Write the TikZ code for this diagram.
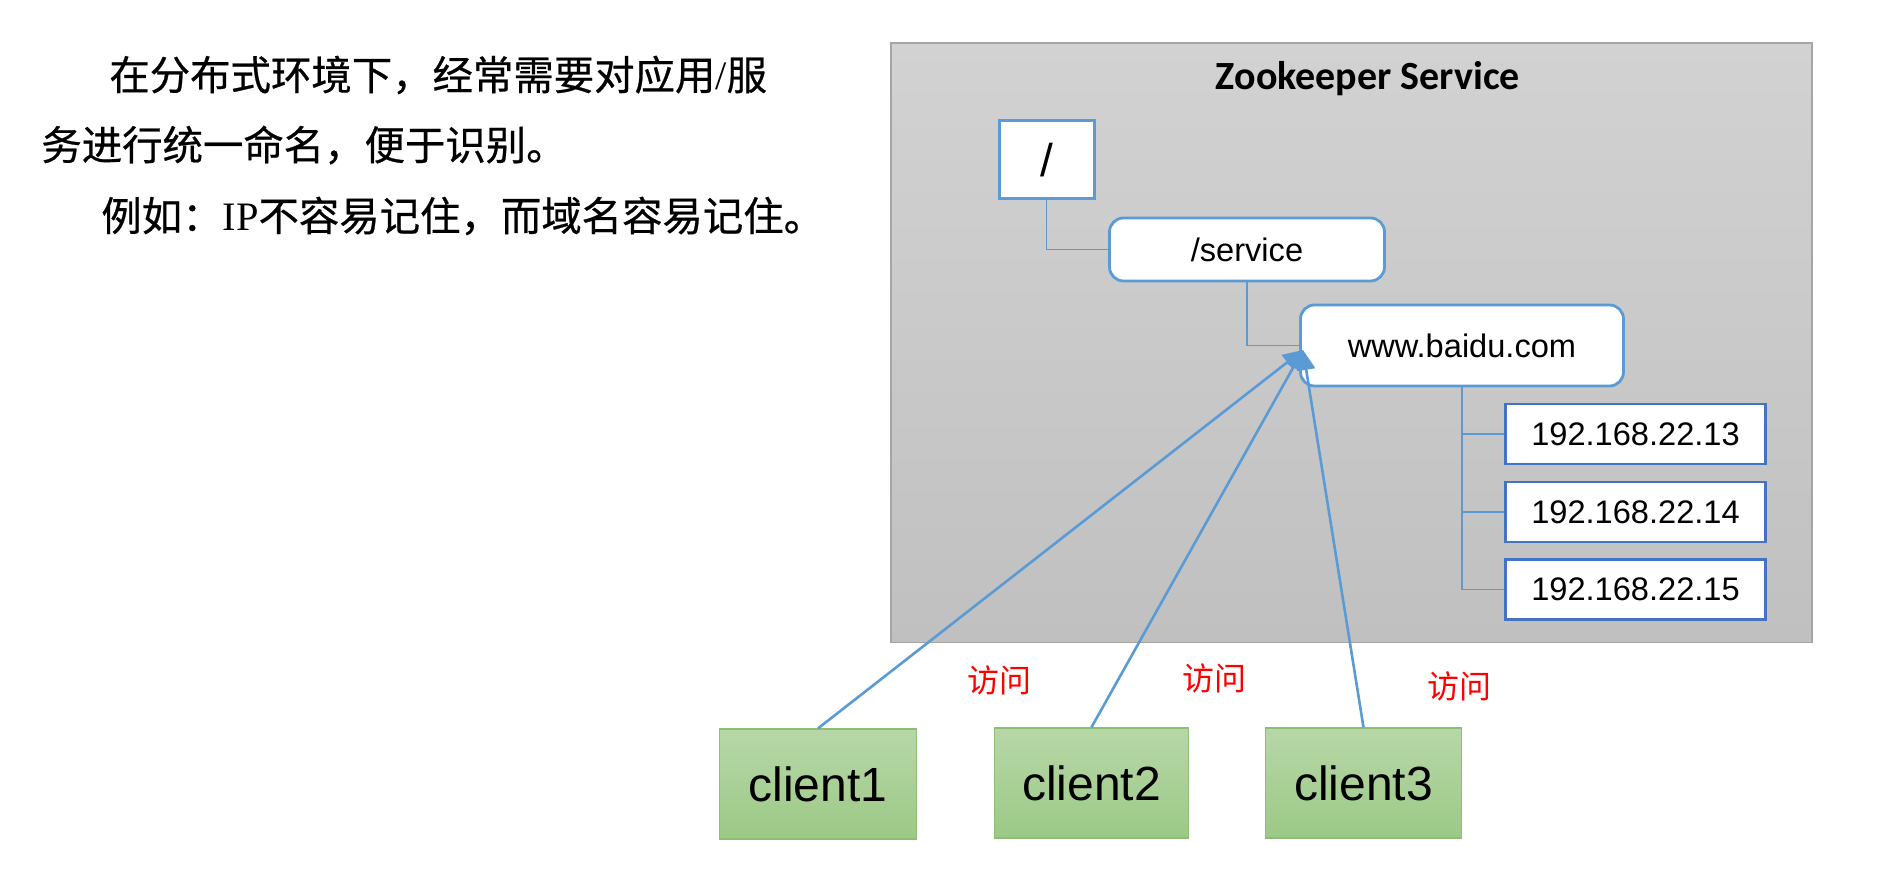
\documentclass[tikz,border=0pt]{standalone}
\usepackage{fontspec}
\setmainfont{Liberation Sans}
\newfontfamily\cjk{Noto Sans CJK SC}[FakeBold=0.6]
\newfontfamily\cjklight{Noto Sans CJK SC}
\newfontfamily\carl{Carlito}
\newfontfamily\tnr{Liberation Serif}
\usetikzlibrary{arrows.meta}
\definecolor{zkblue}{RGB}{91,155,213}
\definecolor{ipblue}{RGB}{68,114,196}
\definecolor{graytop}{RGB}{210,210,210}
\definecolor{graybot}{RGB}{192,192,192}
\definecolor{grayedge}{RGB}{165,165,165}
\definecolor{greentop}{RGB}{183,215,168}
\definecolor{greenbot}{RGB}{156,201,134}
\definecolor{greenedge}{RGB}{140,190,115}
\tikzset{
  x=0.5pt, y=-0.5pt,
  sanstext/.style={font=\fontsize{16.3}{19}\selectfont},
  rootbox/.style={draw=zkblue, line width=1.5pt, fill=white, minimum width=47.5pt, minimum height=39pt, inner sep=0pt},
  roundbox/.style={draw=zkblue, line width=1.4pt, fill=white, rounded corners=7pt, inner sep=0pt, sanstext},
  ipbox/.style={draw=ipblue, line width=1.3pt, fill=white, minimum width=130pt, minimum height=30pt, inner sep=0pt, sanstext},
  clientbox/.style={draw=greenedge, line width=0.6pt, top color=greentop, bottom color=greenbot, minimum height=55pt, inner sep=0pt, font=\fontsize{24}{28}\selectfont},
  treeline/.style={draw=zkblue, line width=0.75pt},
  accessline/.style={draw=zkblue, line width=1.3pt, -{Triangle[length=10pt,width=9pt]}},
  visitlabel/.style={text=red, font=\cjklight\fontsize{16}{18}\selectfont, inner sep=0pt},
  lefttext/.style={anchor=west, inner sep=0pt, font=\cjk\fontsize{20.2}{24}\selectfont}
}
\begin{document}
\begin{tikzpicture}
\useasboundingbox (0,0) rectangle (1885,886);
% left text
\node[lefttext] (t1) at (109,75) {在分布式环境下，经常需要对应用{\tnr /}服};
\node[lefttext] (t2) at (41,145) {务进行统一命名，便于识别。};
\node[lefttext] (t3) at (101,216) {例如：{\tnr IP}不容易记住，而域名容易记住。};
% service area
\shade[top color=graytop, bottom color=graybot, draw=grayedge, line width=0.6pt] (891,43) rectangle (1812,642.7);
\node[anchor=base, font=\carl\bfseries\fontsize{20}{22}\selectfont] (title) at (1368,90) {Zookeeper Service};
\node[rootbox, font=\fontsize{23}{26}\selectfont] (root) at (1046.5,160) {/};
\node[roundbox, minimum width=137.5pt, minimum height=31.5pt] (service) at (1247,249.5) {/service};
\node[roundbox, minimum width=161.5pt, minimum height=40.5pt] (www) at (1462,345.5) {www.baidu.com};
\node[ipbox] (ip1) at (1635.5,434) {192.168.22.13};
\node[ipbox] (ip2) at (1635.5,512) {192.168.22.14};
\node[ipbox] (ip3) at (1635.5,589.7) {192.168.22.15};
\draw[treeline] (root.south) |- (service.west);
\draw[treeline] (service.south) |- (www.west);
\draw[treeline] (www.south) |- (ip1.west);
\draw[treeline] (www.south) |- (ip2.west);
\draw[treeline] (www.south) |- (ip3.west);
% clients
\node[clientbox, minimum width=98.75pt] (c1) at (818,784) {client1};
\node[clientbox, minimum width=97pt] (c2) at (1091.4,783) {client2};
\node[clientbox, minimum width=98.25pt] (c3) at (1363.5,783) {client3};
\coordinate (tip) at (1303,350);
\draw[accessline] (c1.north) -- (tip);
\draw[accessline] (c2.north) -- (tip);
\draw[accessline] (c3.north) -- (tip);
\node[visitlabel] (v1) at (999,680) {访问};
\node[visitlabel] (v2) at (1214,678.5) {访问};
\node[visitlabel] (v3) at (1459,686) {访问};
\end{tikzpicture}
\end{document}
